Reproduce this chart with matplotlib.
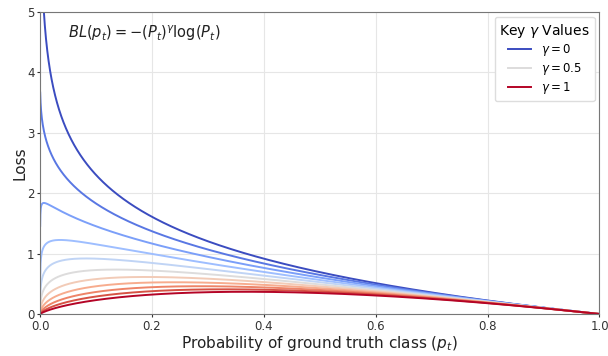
import numpy as np
import matplotlib.pyplot as plt

# ───────── DATOS ─────────
gammas = [0.0, 0.1, 0.2, 0.3, 0.4, 0.5, 0.6, 0.7, 0.8, 0.9, 1.0]
legend_gammas = [0.0, 0.5, 1.0]
legend_labels = [r'$\gamma=0$', r'$\gamma=0.5$', r'$\gamma=1$']
p = np.linspace(1e-4, 1.0, 3000)

# ───────── GRÁFICO ─────────
fig, ax = plt.subplots(figsize=(6.08, 3.56), dpi=100)
fig.subplots_adjust(left=0.066, right=0.986, top=0.966, bottom=0.118)

cmap = plt.colormaps['coolwarm']
for g in gammas:
    bl = -(p**g) * np.log(p)
    lab = legend_labels[legend_gammas.index(g)] if g in legend_gammas else None
    ax.plot(p, bl, color=cmap(g), lw=1.4, label=lab)

ax.set_xlim(0, 1)
ax.set_ylim(0, 5)
ax.set_xticks([0, 0.2, 0.4, 0.6, 0.8, 1.0])
ax.set_yticks([0, 1, 2, 3, 4, 5])
ax.grid(True, color='#e6e6e6', lw=0.8)
ax.tick_params(labelsize=8.5, colors='#333333', length=2.5, pad=1.5)
for s in ax.spines.values():
    s.set_color('#777777')
ax.set_xlabel(r'Probability of ground truth class ($p_t$)', fontsize=11,
              color='#222222', labelpad=1)
ax.set_ylabel('Loss', fontsize=11, color='#222222', labelpad=0)
ax.text(0.05, 0.915, r'$BL(p_t) = -(P_t)^{\gamma}\log(P_t)$', transform=ax.transAxes,
        fontsize=10.5, color='#222222')
leg = ax.legend(title=r'Key $\gamma$ Values', loc='upper right', fontsize=8.5,
                title_fontsize=10, framealpha=1, edgecolor='#dddddd',
                labelspacing=0.25, handlelength=2.0, borderaxespad=0.4)

fig.savefig('out.png', dpi=100)
